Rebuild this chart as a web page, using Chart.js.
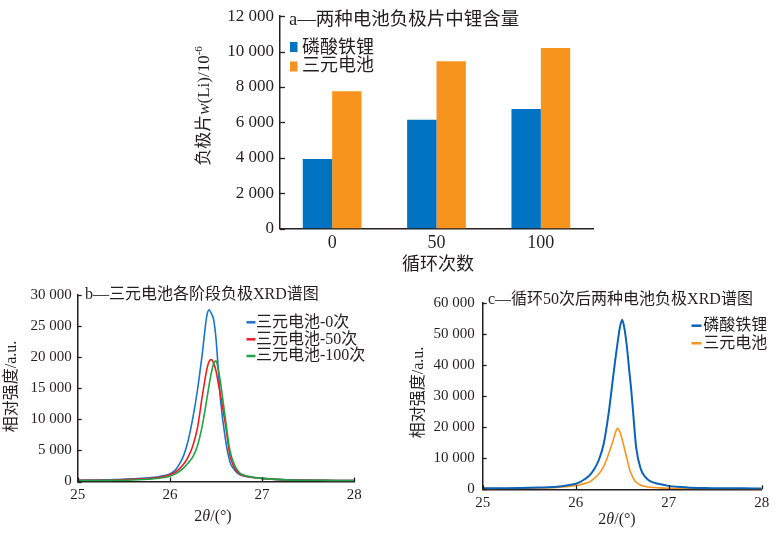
<!DOCTYPE html>
<html><head><meta charset="utf-8">
<script src="https://cdn.jsdelivr.net/npm/chart.js@4.4.1/dist/chart.umd.min.js"></script>
<style>
html,body{margin:0;padding:0;background:#fff;}
body{width:780px;height:534px;position:relative;overflow:hidden;}
canvas{position:absolute;display:block;}
</style></head><body>
<canvas id="ca" width="420" height="280" style="left:180px;top:0px"></canvas>
<canvas id="cb" width="370" height="254" style="left:0px;top:280px"></canvas>
<canvas id="cc" width="390" height="254" style="left:390px;top:280px"></canvas>
<script>
// ---------- data: chart a ----------
const cycleLabels = ['0', '50', '100'];
const lfpLi = [3930, 6150, 6760];
const ncmLi = [7760, 9450, 10200];
const yTicksA = [0, 2000, 4000, 6000, 8000, 10000, 12000];

// ---------- data: chart b ----------
const thetaB = [25.0, 25.2, 25.4, 25.6, 25.8, 25.9, 26.0, 26.05, 26.1, 26.15, 26.2, 26.25, 26.3, 26.35, 26.4, 26.425, 26.45, 26.475, 26.5, 26.525, 26.55, 26.6, 26.65, 26.7, 26.75, 26.8, 26.9, 27.0, 27.2, 27.4, 27.6, 27.8, 28.0];
const ncm0 = [200, 250, 300, 450, 650, 850, 1200, 1700, 2700, 4200, 6700, 10300, 14800, 20400, 26600, 27600, 27000, 26000, 23000, 18000, 13000, 7000, 3200, 1900, 1150, 900, 650, 500, 300, 250, 200, 150, 150];
const ncm50 = [200, 200, 250, 350, 500, 700, 1100, 1400, 2000, 2800, 4000, 5800, 8700, 13600, 18000, 19300, 19600, 19000, 17800, 15800, 13800, 9400, 4300, 2200, 1300, 950, 650, 500, 300, 200, 200, 150, 150];
const ncm100 = [150, 150, 200, 250, 400, 550, 850, 1150, 1600, 2200, 3000, 4000, 5800, 8900, 13200, 15500, 17500, 19000, 19400, 18000, 15800, 10300, 5100, 2700, 1500, 1050, 700, 500, 300, 200, 200, 150, 150];

// ---------- data: chart c ----------
const thetaC = [25.0, 25.2, 25.4, 25.6, 25.8, 25.9, 26.0, 26.05, 26.1, 26.15, 26.2, 26.25, 26.3, 26.35, 26.4, 26.425, 26.45, 26.475, 26.5, 26.525, 26.55, 26.575, 26.6, 26.625, 26.65, 26.7, 26.75, 26.8, 26.9, 27.0, 27.2, 27.4, 27.6, 27.8, 28.0];
const lfp50 = [300, 350, 400, 550, 800, 1200, 1800, 2400, 3300, 4500, 6500, 9500, 14500, 23500, 35500, 41500, 47000, 52000, 54500, 51500, 46000, 38500, 31000, 22000, 13500, 6500, 3900, 2600, 1700, 1100, 600, 400, 300, 300, 250];
const ncm50c = [200, 250, 300, 400, 600, 800, 1200, 1500, 1900, 2400, 3500, 5000, 7300, 11000, 15500, 18000, 19600, 18500, 16000, 13000, 10000, 6800, 4800, 3200, 2300, 1300, 900, 650, 450, 350, 250, 200, 200, 150, 150];

// ---------- styling ----------
const SERIF = "'Liberation Serif', 'Noto Sans CJK SC', serif";
const INK = '#231F20';
const BLUE_A = '#0072C2', ORANGE_A = '#F7941D';
const BLUE_B = '#1C75C8', RED_B = '#EC1C24', GREEN_B = '#1FA347';
const BLUE_C = '#0B63B6', ORANGE_C = '#F7941D';
const fmt = v => String(v).replace(/\B(?=(\d{3})+(?!\d))/g, ' ');
const f = (size, style) => (style ? style + ' ' : '') + size + 'px ' + SERIF;
const pts = (xs, ys) => xs.map((x, i) => ({x: x, y: ys[i]}));

function drawRich(ctx, it) {
  ctx.save();
  ctx.translate(it.x, it.y);
  if (it.rotate) ctx.rotate(it.rotate);
  ctx.fillStyle = it.color || INK;
  ctx.textBaseline = 'middle';
  ctx.textAlign = 'left';
  let total = 0;
  const ws = it.segs.map(s => { ctx.font = s.font; const w = ctx.measureText(s.t).width; total += w; return w; });
  let cx = it.align === 'left' ? 0 : -total / 2;
  it.segs.forEach((s, i) => { ctx.font = s.font; ctx.fillText(s.t, cx, s.dy || 0); cx += ws[i]; });
  ctx.restore();
}

const textsPlugin = {
  id: 'texts',
  afterDraw(chart, args, opts) {
    const ctx = chart.ctx;
    (opts.items || []).forEach(it => {
      if (it.type === 'box') {
        ctx.save(); ctx.fillStyle = it.color; ctx.fillRect(it.x, it.y, it.w, it.h); ctx.restore();
      } else if (it.type === 'line') {
        ctx.save(); ctx.strokeStyle = it.color; ctx.lineWidth = it.width || 2.5;
        ctx.beginPath(); ctx.moveTo(it.x1, it.y); ctx.lineTo(it.x2, it.y); ctx.stroke(); ctx.restore();
      } else {
        drawRich(ctx, it);
      }
    });
  }
};

const inwardTicks = {
  id: 'inwardTicks',
  afterDraw(chart, args, opts) {
    const ctx = chart.ctx, a = chart.chartArea, len = opts.len || 4;
    ctx.save(); ctx.strokeStyle = INK; ctx.lineWidth = 1.3;
    if (opts.y) {
      const s = chart.scales.y;
      s.ticks.forEach((t, i) => { const p = Math.round(s.getPixelForTick(i)) + 0.5; ctx.beginPath(); ctx.moveTo(a.left, p); ctx.lineTo(a.left + len, p); ctx.stroke(); });
    }
    if (opts.x) {
      const s = chart.scales.x;
      s.ticks.forEach((t, i) => { const p = Math.round(s.getPixelForTick(i)) + 0.5; ctx.beginPath(); ctx.moveTo(p, a.bottom); ctx.lineTo(p, a.bottom - len); ctx.stroke(); });
    }
    ctx.restore();
  }
};

function axisCommon(extra) {
  return Object.assign({
    grid: {display: false, drawTicks: false},
    border: {display: true, color: INK, width: 1.5},
  }, extra);
}

// ---------- chart a ----------
new Chart(document.getElementById('ca'), {
  type: 'bar',
  data: {
    labels: cycleLabels,
    datasets: [
      {label: '磷酸铁锂', data: lfpLi, backgroundColor: BLUE_A, categoryPercentage: 0.563, barPercentage: 1},
      {label: '三元电池', data: ncmLi, backgroundColor: ORANGE_A, categoryPercentage: 0.563, barPercentage: 1}
    ]
  },
  options: {
    responsive: false, animation: false,
    layout: {padding: {top: 13.5, right: 7, left: 0, bottom: 0}},
    plugins: {
      legend: {display: false}, tooltip: {enabled: false},
      inwardTicks: {y: true, len: 5},
      texts: {items: [
        {x: 109, y: 20, align: 'left', segs: [{t: 'a—两种电池负极片中锂含量', font: f(18.5)}]},
        {type: 'box', x: 110, y: 42, w: 7.5, h: 10, color: BLUE_A},
        {type: 'box', x: 110, y: 61.5, w: 7.5, h: 10, color: ORANGE_A},
        {x: 122, y: 48, align: 'left', segs: [{t: '磷酸铁锂', font: f(18)}]},
        {x: 122, y: 66, align: 'left', segs: [{t: '三元电池', font: f(18)}]},
        {x: 25, y: 106, rotate: -Math.PI / 2, segs: [
          {t: '负极片', font: f(17)}, {t: 'w', font: f(17, 'italic')}, {t: '(Li)/10', font: f(17)}, {t: '-6', font: f(11), dy: -6}]},
        {x: 258, y: 265, segs: [{t: '循环次数', font: f(18)}]}
      ]}
    },
    scales: {
      x: axisCommon({ticks: {font: {family: SERIF, size: 18}, color: INK, padding: 4},
        afterFit(s) { s.height = 51.5; }}),
      y: axisCommon({min: 0, max: 12000,
        afterBuildTicks(s) { s.ticks = yTicksA.map(v => ({value: v})); },
        ticks: {callback: fmt, font: {family: SERIF, size: 17}, color: INK, padding: 6},
        afterFit(s) { s.width = 100; }})
    }
  },
  plugins: [inwardTicks, textsPlugin]
});

// ---------- chart b ----------
new Chart(document.getElementById('cb'), {
  type: 'line',
  data: {
    datasets: [
      {label: '三元电池-0次', data: pts(thetaB, ncm0), borderColor: BLUE_B, order: 3},
      {label: '三元电池-50次', data: pts(thetaB, ncm50), borderColor: RED_B, order: 2},
      {label: '三元电池-100次', data: pts(thetaB, ncm100), borderColor: GREEN_B, order: 1}
    ]
  },
  options: {
    responsive: false, animation: false,
    layout: {padding: {top: 15, right: 15.7, left: 0, bottom: 0}},
    elements: {point: {radius: 0}, line: {borderWidth: 1.6, cubicInterpolationMode: 'monotone'}},
    plugins: {
      legend: {display: false}, tooltip: {enabled: false},
      inwardTicks: {x: true, y: true, len: 4},
      texts: {items: [
        {x: 85, y: 15, align: 'left', segs: [{t: 'b—三元电池各阶段负极XRD谱图', font: f(16)}]},
        {type: 'line', x1: 246.5, x2: 255.5, y: 42.3, color: BLUE_B},
        {type: 'line', x1: 246.5, x2: 255.5, y: 59.3, color: RED_B},
        {type: 'line', x1: 246.5, x2: 255.5, y: 76, color: GREEN_B},
        {x: 256, y: 42.3, align: 'left', segs: [{t: '三元电池-0次', font: f(16)}]},
        {x: 256, y: 59.3, align: 'left', segs: [{t: '三元电池-50次', font: f(16)}]},
        {x: 256, y: 76, align: 'left', segs: [{t: '三元电池-100次', font: f(16)}]},
        {x: 12, y: 106.5, rotate: -Math.PI / 2, segs: [{t: '相对强度/a.u.', font: f(16)}]},
        {x: 213, y: 236.7, segs: [{t: '2', font: f(16)}, {t: 'θ', font: f(16, 'italic')}, {t: '/(°)', font: f(16)}]}
      ]}
    },
    scales: {
      x: axisCommon({type: 'linear', min: 25, max: 28,
        ticks: {stepSize: 1, font: {family: SERIF, size: 15}, color: INK, padding: 5},
        afterFit(s) { s.height = 52.5; }}),
      y: axisCommon({min: 0, max: 30000,
        ticks: {stepSize: 5000, callback: fmt, font: {family: SERIF, size: 15}, color: INK, padding: 6},
        afterFit(s) { s.width = 77.7; }})
    }
  },
  plugins: [inwardTicks, textsPlugin]
});

// ---------- chart c ----------
new Chart(document.getElementById('cc'), {
  type: 'line',
  data: {
    datasets: [
      {label: '磷酸铁锂', data: pts(thetaC, lfp50), borderColor: BLUE_C, borderWidth: 2},
      {label: '三元电池', data: pts(thetaC, ncm50c), borderColor: ORANGE_C, borderWidth: 1.6}
    ]
  },
  options: {
    responsive: false, animation: false,
    layout: {padding: {top: 22.7, right: 18.3, left: 0, bottom: 0}},
    elements: {point: {radius: 0}, line: {cubicInterpolationMode: 'monotone'}},
    plugins: {
      legend: {display: false}, tooltip: {enabled: false},
      inwardTicks: {x: true, y: true, len: 4},
      texts: {items: [
        {x: 98, y: 20, align: 'left', segs: [{t: 'c—循环50次后两种电池负极XRD谱图', font: f(16)}]},
        {type: 'line', x1: 301.5, x2: 311.5, y: 45.7, color: BLUE_C},
        {type: 'line', x1: 301.5, x2: 311.5, y: 63.3, color: ORANGE_C},
        {x: 313.3, y: 45.7, align: 'left', segs: [{t: '磷酸铁锂', font: f(16)}]},
        {x: 313.3, y: 63.3, align: 'left', segs: [{t: '三元电池', font: f(16)}]},
        {x: 28.3, y: 112.5, rotate: -Math.PI / 2, segs: [{t: '相对强度/a.u.', font: f(16)}]},
        {x: 227, y: 240, segs: [{t: '2', font: f(16)}, {t: 'θ', font: f(16, 'italic')}, {t: '/(°)', font: f(16)}]}
      ]}
    },
    scales: {
      x: axisCommon({type: 'linear', min: 25, max: 28,
        ticks: {stepSize: 1, font: {family: SERIF, size: 15}, color: INK, padding: 5},
        afterFit(s) { s.height = 44.7; }}),
      y: axisCommon({min: 0, max: 60000,
        ticks: {stepSize: 10000, callback: fmt, font: {family: SERIF, size: 15}, color: INK, padding: 8},
        afterFit(s) { s.width = 92.7; }})
    }
  },
  plugins: [inwardTicks, textsPlugin]
});
</script>
</body></html>
